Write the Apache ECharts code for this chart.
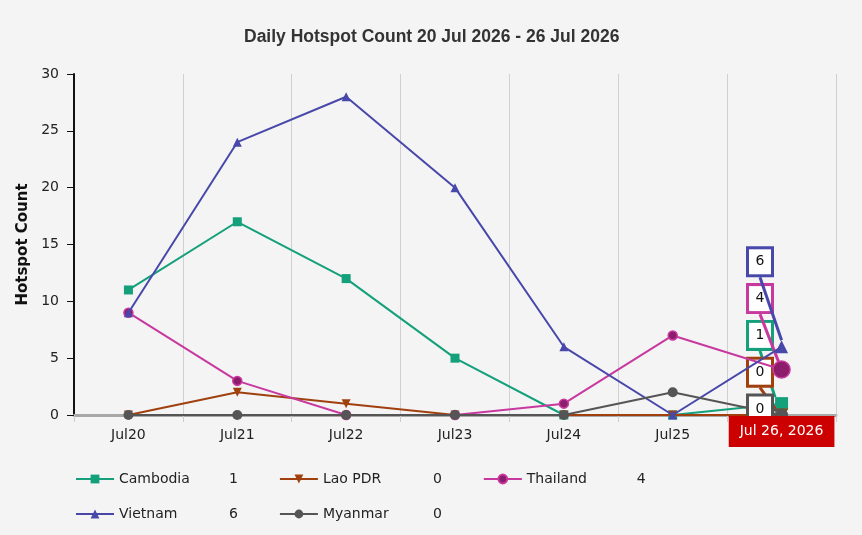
<!DOCTYPE html>
<html>
<head>
<meta charset="utf-8">
<script src="https://cdn.jsdelivr.net/npm/echarts@6/dist/echarts.min.js"></script>
<style>
html,body{margin:0;padding:0;background:#f4f4f4;}
#chart{width:862px;height:535px;}
</style>
</head>
<body>
<div id="chart"></div>
<script>
var categories = ['Jul20','Jul21','Jul22','Jul23','Jul24','Jul25','Jul26'];
var lastDateLabel = 'Jul 26, 2026';
var cambodia = [11, 17, 12, 5, 0, 0, 1];
var laoPDR   = [0, 2, 1, 0, 0, 0, 0];
var thailand = [9, 3, 0, 0, 1, 7, 4];
var vietnam  = [9, 24, 28, 20, 6, 0, 6];
var myanmar  = [0, 0, 0, 0, 0, 2, 0];
var yTicks = [0, 5, 10, 15, 20, 25, 30];

var FONT = 'DejaVu Sans';
var seriesDefs = [
  {name:'Cambodia', data:cambodia, color:'#13a07a', fill:'#13a07a', symbol:'rect', size:9, box:2},
  {name:'Lao PDR', data:laoPDR, color:'#a0400e', fill:'#a0400e', symbol:'triangle', rotate:180, size:9, box:1},
  {name:'Thailand', data:thailand, color:'#c8399f', fill:'#8c1c6c', symbol:'circle', size:9, box:3},
  {name:'Vietnam', data:vietnam, color:'#4848aa', fill:'#4848aa', symbol:'triangle', size:9, box:4},
  {name:'Myanmar', data:myanmar, color:'#555555', fill:'#555555', symbol:'circle', size:10, box:0}
];
var lastIdx = categories.length - 1;
var lastVals = {};
seriesDefs.forEach(function(s){ lastVals[s.name] = s.data[lastIdx]; });

var chart = echarts.init(document.getElementById('chart'));

var series = seriesDefs.map(function(s, si){
  return {
    name: s.name,
    type: 'line',
    symbol: s.symbol,
    symbolRotate: s.rotate || 0,
    symbolSize: s.size,
    showAllSymbol: true,
    z: 3 + si,
    lineStyle: {color: s.color, width: 2},
    itemStyle: {color: s.fill, borderColor: s.color, borderWidth: s.fill === s.color ? 0 : 1.5},
    data: s.data.map(function(v, i){
      if (i !== lastIdx) return v;
      return {
        value: v,
        symbolSize: s.name === 'Thailand' ? 17 : 13,
        label: {
          show: true,
          formatter: String(v),
          color: '#111',
          fontFamily: FONT,
          fontSize: 14,
          backgroundColor: '#ffffff',
          borderColor: s.color,
          borderWidth: 3,
          width: 22,
          height: 25,
          lineHeight: 25,
          align: 'center',
          verticalAlign: 'middle'
        }
      };
    }),
    labelLayout: function(params){
      return {
        x: 760,
        y: 409 - s.box * 36.8,
        align: 'center',
        verticalAlign: 'middle',
        hideOverlap: false
      };
    },
    labelLine: {show: true, showAbove: false, lineStyle: {color: s.color, width: 3}}
  };
});

var legendBase = {
  left: 75,
  padding: 0,
  itemWidth: 38,
  itemHeight: 11,
  itemGap: 41,
  textStyle: {
    fontFamily: FONT, fontSize: 14, color: '#222',
    rich: {
      n: {fontFamily: FONT, fontSize: 14, color: '#222', width: 110},
      v: {fontFamily: FONT, fontSize: 14, color: '#222', width: 30}
    }
  },
  formatter: function(name){ return '{n|' + name + '}{v|' + lastVals[name] + '}'; }
};
var legend1 = Object.assign({}, legendBase, {top: 472, data: ['Cambodia','Lao PDR','Thailand']});
var legend2 = Object.assign({}, legendBase, {top: 507, data: ['Vietnam','Myanmar']});

chart.setOption({
  backgroundColor: '#f4f4f4',
  animation: false,
  title: {
    text: 'Daily Hotspot Count 20 Jul 2026 - 26 Jul 2026',
    left: 239,
    top: 23,
    textStyle: {fontFamily: 'Liberation Sans', fontSize: 17.5, fontWeight: 'bold', color: '#333'}
  },
  grid: {left: 74, right: 26, top: 74, bottom: 120},
  xAxis: {
    type: 'category',
    data: categories,
    boundaryGap: true,
    axisLine: {lineStyle: {color: '#a8a8a8', width: 3}},
    axisTick: {show: true, length: 7, lineStyle: {color: '#cccccc'}},
    splitLine: {show: true, lineStyle: {color: '#d0d0d0', width: 1}},
    axisLabel: {color: '#222', fontFamily: FONT, fontSize: 14, margin: 13},
    axisPointer: {
      show: true,
      type: 'none',
      value: lastIdx,
      status: 'show',
      triggerTooltip: false,
      label: {
        show: true,
        formatter: function(){ return lastDateLabel; },
        backgroundColor: '#cc0000',
        color: '#fff',
        fontFamily: FONT,
        fontSize: 14,
        padding: [8, 11, 9, 11],
        margin: 1,
        borderRadius: 0,
        shadowBlur: 0
      }
    }
  },
  yAxis: {
    type: 'value',
    min: 0, max: 30, interval: 5,
    name: 'Hotspot Count',
    nameLocation: 'middle',
    nameRotate: 90,
    nameGap: 43,
    nameTextStyle: {fontFamily: FONT, fontSize: 15, fontWeight: 'bold', color: '#111'},
    axisLine: {show: true, lineStyle: {color: '#111', width: 2}},
    axisTick: {show: true, length: 7, lineStyle: {color: '#111'}},
    splitLine: {show: false},
    axisLabel: {color: '#222', fontFamily: FONT, fontSize: 14, margin: 15,
      formatter: function(v){ return yTicks.indexOf(v) >= 0 ? String(v) : ''; }}
  },
  legend: [legend1, legend2],
  series: series
});
</script>
</body>
</html>
